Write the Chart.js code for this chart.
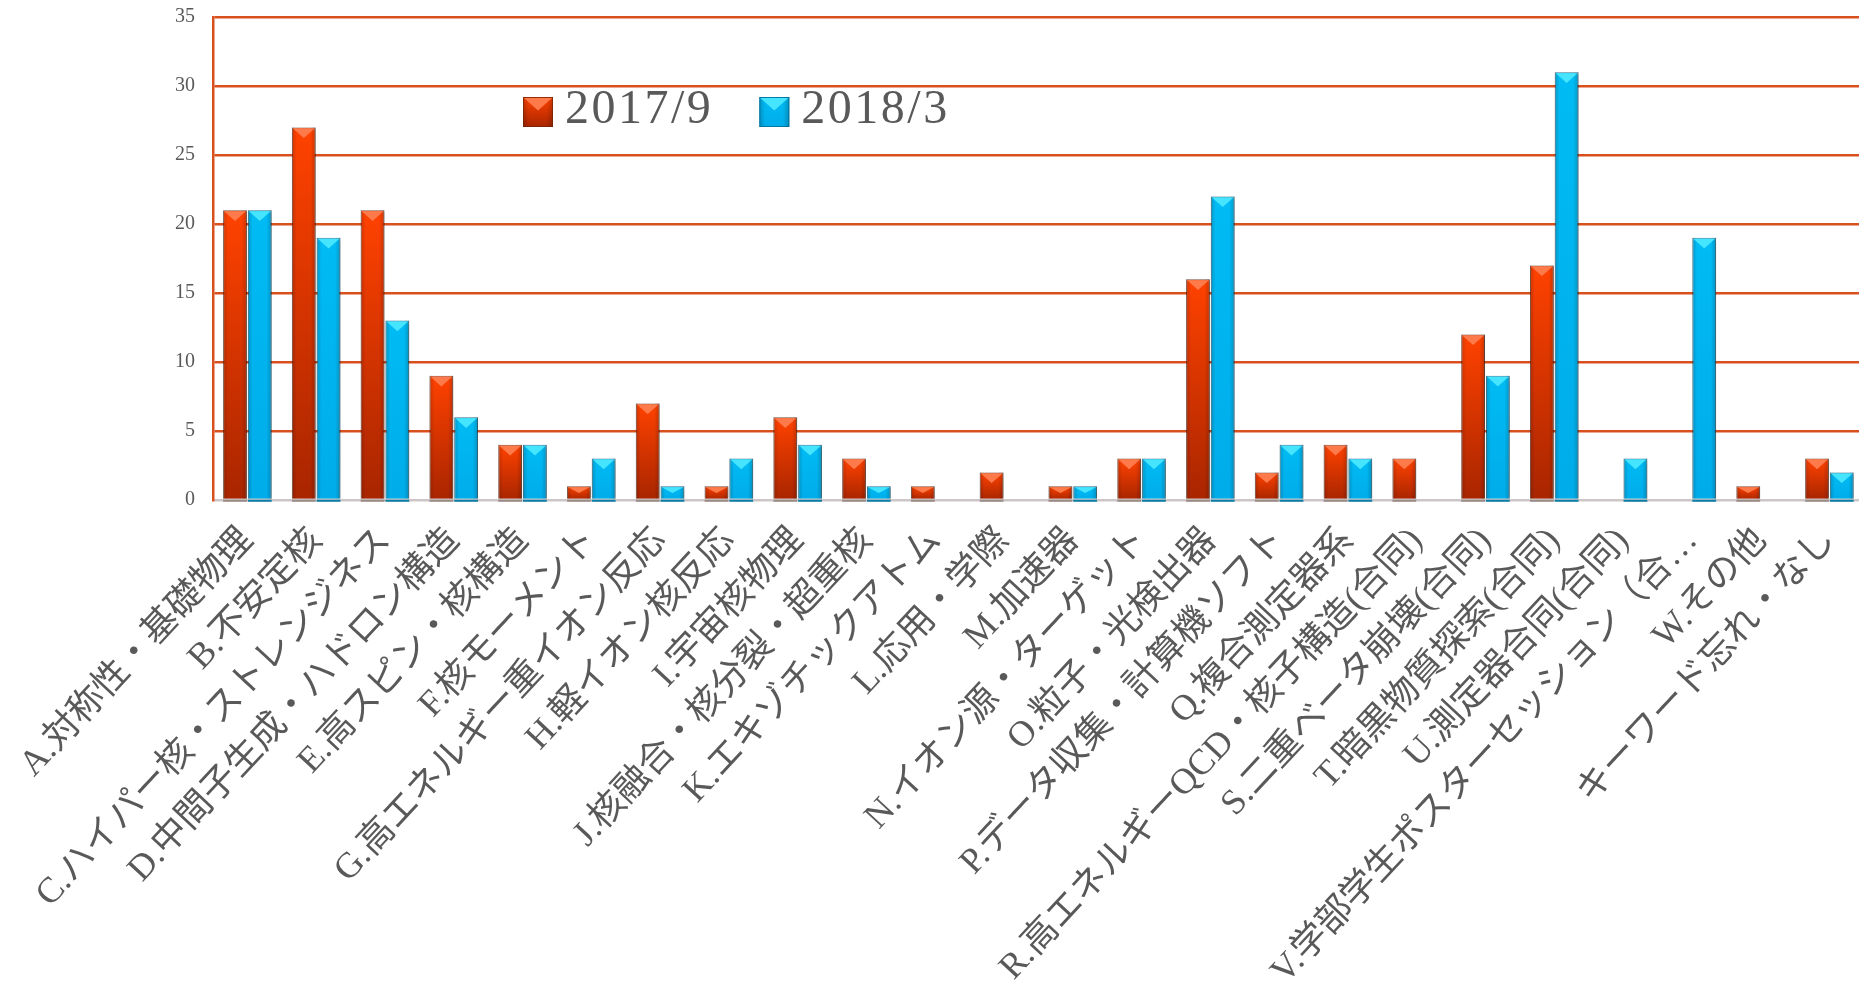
<!DOCTYPE html>
<html lang="ja">
<head>
<meta charset="utf-8">
<title>キーワード別件数 2017/9・2018/3</title>
<script src="https://cdn.jsdelivr.net/npm/chart.js@4.4.1/dist/chart.umd.min.js"></script>
<style>
  html, body { margin: 0; padding: 0; background: #fff; overflow: hidden; }
  /* the original plot runs a little past the right edge of the picture */
  #wrap { width: 1859px; height: 984px; position: relative; overflow: hidden; }
</style>
</head>
<body>
<div id="wrap"><canvas id="chart" width="1873" height="984"></canvas></div>
<script>
// --- Data ---
const categories = [
  'A.対称性・基礎物理', 'B.不安定核', 'C.ハイパー核・ストレンジネス', 'D.中間子生成・ハドロン構造',
  'E.高スピン・核構造', 'F.核モーメント', 'G.高エネルギー重イオン反応', 'H.軽イオン核反応',
  'I.宇宙核物理', 'J.核融合・核分裂・超重核', 'K.エキゾチックアトム', 'L.応用・学際',
  'M.加速器', 'N.イオン源・ターゲット', 'O.粒子・光検出器', 'P.データ収集・計算機ソフト',
  'Q.複合測定器系', 'R.高エネルギーQCD・核子構造(合同)', 'S.二重ベータ崩壊(合同)', 'T.暗黒物質探索(合同)',
  'U.測定器合同(合同)', 'V.学部学生ポスターセッション（合…', 'W.その他', 'キーワード忘れ・なし'
];
const series_names = ['2017/9', '2018/3'];
const values_2017_9 = [21, 27, 21, 9, 4, 1, 7, 1, 6, 3, 1, 2, 1, 3, 16, 2, 4, 3, 12, 17, 0, 0, 1, 3];
const values_2018_3 = [21, 19, 13, 6, 4, 3, 1, 3, 4, 1, 0, 0, 1, 3, 22, 4, 3, 0, 9, 31, 3, 19, 0, 2];
const y_max = 35;
const y_step = 5;

// --- Styles ---
const TEXT = '#595959';
const GRID = '#d9501f';
const red_style = { top: '#ff4200', bottom: '#a82500', edge: 'rgba(110,35,10,0.7)', bevel: '#ff7a4a', foot: '#9a8a86' };
const blue_style = { top: '#00bbf4', bottom: '#00acea', edge: 'rgba(0,95,135,0.7)', bevel: '#45e4ff', foot: '#0a7ea6' };

function bar_fill(st) {
  return (ctx) => {
    const chart = ctx.chart;
    const y = chart.scales && chart.scales.y;
    if (!chart.chartArea || !y || !ctx.raw) return st.top;
    const top = y.getPixelForValue(ctx.raw);
    const base = y.getPixelForValue(0);
    const g = chart.ctx.createLinearGradient(0, top, 0, base);
    g.addColorStop(0, st.top);
    g.addColorStop(1, st.bottom);
    return g;
  };
}

// side shading + top bevel on a bar box
function bevel_box(c, l, t, w, h, st) {
  const g = c.createLinearGradient(l, 0, l + w, 0);
  g.addColorStop(0, 'rgba(0,0,0,0.18)');
  g.addColorStop(0.2, 'rgba(0,0,0,0)');
  g.addColorStop(0.78, 'rgba(0,0,0,0)');
  g.addColorStop(1, 'rgba(0,0,0,0.2)');
  c.fillStyle = g;
  c.fillRect(l, t, w, h);
  const d = Math.min(w * 0.45, h * 0.55);
  c.beginPath();
  c.moveTo(l + 1, t + 1);
  c.lineTo(l + w - 1, t + 1);
  c.lineTo(l + w / 2, t + d);
  c.closePath();
  c.fillStyle = st.bevel;
  c.fill();
}

const bevel_plugin = {
  id: 'bevel',
  beforeDatasetsDraw(chart) {
    const c = chart.ctx;
    c.save();
    c.shadowColor = 'rgba(0,0,0,0.3)';
    c.shadowBlur = 5;
    c.shadowOffsetX = 2;
    c.shadowOffsetY = 1;
  },
  afterDatasetsDraw(chart) {
    const c = chart.ctx;
    c.restore();
    c.save();
    chart.data.datasets.forEach((ds, di) => {
      const st = di === 0 ? red_style : blue_style;
      chart.getDatasetMeta(di).data.forEach((bar, i) => {
        if (!ds.data[i]) return;
        const p = bar.getProps(['x', 'y', 'base', 'width'], true);
        const l = p.x - p.width / 2;
        bevel_box(c, l, p.y, p.width, p.base - p.y, st);
        c.fillStyle = st.foot;
        c.fillRect(l, p.base + 1, p.width, 2);
      });
    });
    c.restore();
  }
};

// legend sits inside the plot, left of centre
const legend_opts = { left: 523, mid: 112, box: 30, text_gap: 12, item_gap: 46, spacing: '2.5px', font: '48px "Liberation Serif", serif' };
const legend_plugin = {
  id: 'inner_legend',
  afterDraw(chart) {
    const c = chart.ctx;
    const o = legend_opts;
    c.save();
    c.font = o.font;
    c.letterSpacing = o.spacing;
    c.textBaseline = 'middle';
    let x = o.left;
    chart.data.datasets.forEach((ds, di) => {
      const st = di === 0 ? red_style : blue_style;
      const t = o.mid - o.box / 2;
      const g = c.createLinearGradient(0, t, 0, t + o.box);
      g.addColorStop(0, st.top);
      g.addColorStop(1, st.bottom);
      c.fillStyle = g;
      c.fillRect(x, t, o.box, o.box);
      bevel_box(c, x, t, o.box, o.box, st);
      c.strokeStyle = st.edge;
      c.lineWidth = 1;
      c.strokeRect(x + 0.5, t + 0.5, o.box - 1, o.box - 1);
      x += o.box + o.text_gap;
      c.fillStyle = TEXT;
      c.fillText(ds.label, x, o.mid - 2);
      x += c.measureText(ds.label).width + o.item_gap;
    });
    c.restore();
  }
};

function make_dataset(label, values, st) {
  return {
    label,
    data: values,
    backgroundColor: bar_fill(st),
    borderColor: st.edge,
    borderWidth: (ctx) => (ctx.raw ? 1 : 0),
    categoryPercentage: 0.72,
    barPercentage: 0.96
  };
}

new Chart(document.getElementById('chart'), {
  type: 'bar',
  data: {
    labels: categories,
    datasets: [
      make_dataset(series_names[0], values_2017_9, red_style),
      make_dataset(series_names[1], values_2018_3, blue_style)
    ]
  },
  options: {
    responsive: false,
    animation: false,
    devicePixelRatio: 1,
    layout: { padding: { top: 17, right: 0, bottom: 0, left: 0 } },
    plugins: {
      legend: { display: false },
      tooltip: { enabled: false }
    },
    scales: {
      x: {
        grid: { display: false },
        border: { display: true, color: '#cdc6c6', width: 2 },
        ticks: {
          autoSkip: false,
          minRotation: 47,
          maxRotation: 47,
          padding: 12,
          color: TEXT,
          font: { family: '"Liberation Serif", "Noto Sans CJK JP", serif', size: 36 }
        },
        afterFit: (scale) => { scale.height = 484; }
      },
      y: {
        min: 0,
        max: y_max,
        ticks: {
          stepSize: y_step,
          padding: 18,
          color: TEXT,
          font: { family: '"Liberation Serif", serif', size: 20 }
        },
        grid: {
          drawTicks: false,
          lineWidth: 2.5,
          color: (ctx) => (ctx.tick && ctx.tick.value === 0 ? '#cdc6c6' : GRID)
        },
        border: { display: true, color: GRID, width: 2.5 },
        afterFit: (scale) => {
          scale.width = 213;
          scale.paddingTop = 0;
          scale.paddingBottom = 0;
        }
      }
    }
  },
  plugins: [bevel_plugin, legend_plugin]
});
</script>
</body>
</html>
